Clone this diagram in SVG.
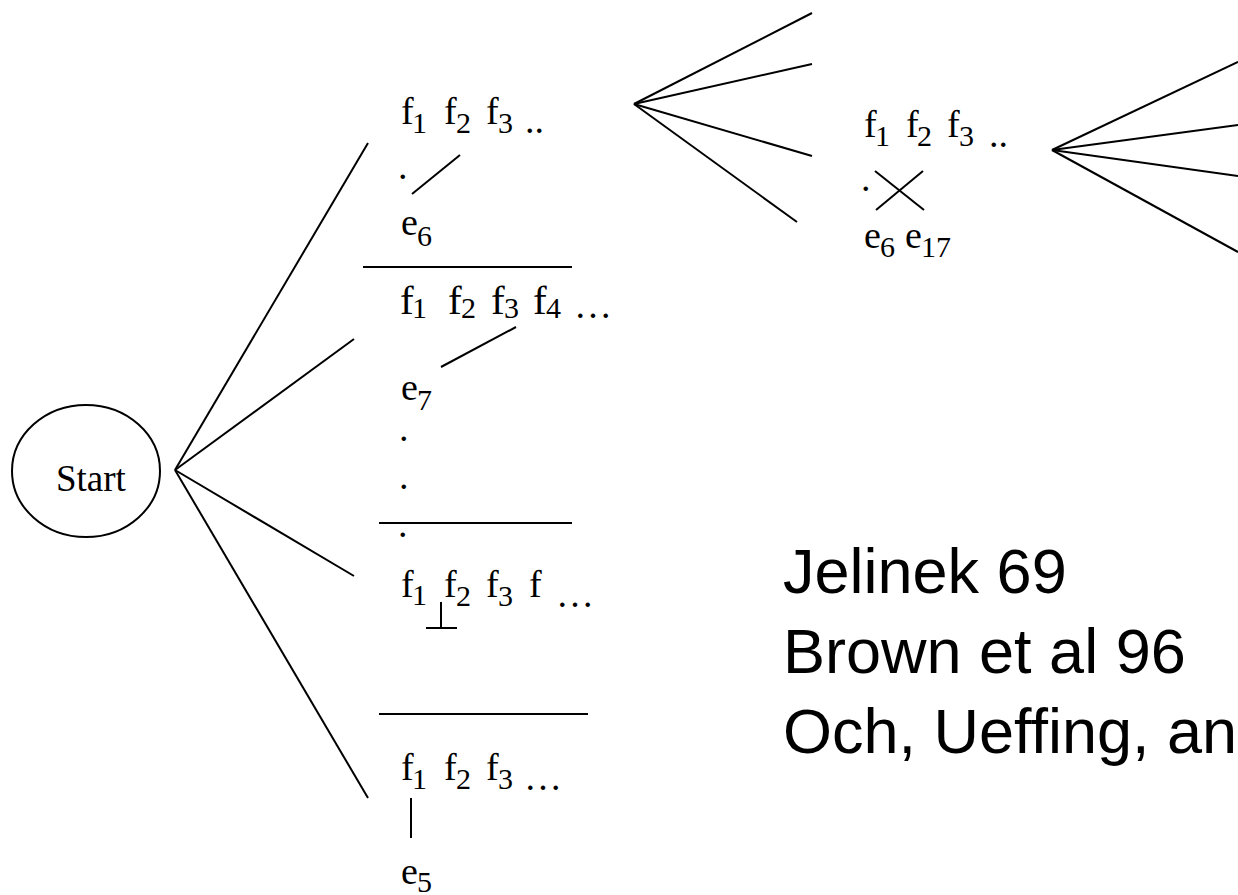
<svg xmlns="http://www.w3.org/2000/svg" width="1238" height="895" viewBox="0 0 1238 895">
<style>
.t{font-family:"Liberation Serif","Times New Roman",serif;font-size:38px;fill:#000}
.b{font-size:41px}
.s{font-family:"Liberation Serif","Times New Roman",serif;font-size:30px;fill:#000}
.r{font-family:"Liberation Sans",Arial,sans-serif;font-size:63px;fill:#000}
line{stroke:#000;stroke-width:2;stroke-linecap:butt}
</style>
<rect width="1238" height="895" fill="#fff"/>
<g id="connectors">
<line x1="175" y1="470" x2="368" y2="143"/>
<line x1="175" y1="470" x2="354" y2="339"/>
<line x1="175" y1="470" x2="354" y2="576"/>
<line x1="175" y1="470" x2="368" y2="798"/>
<line x1="634" y1="104" x2="812" y2="13"/>
<line x1="634" y1="104" x2="812" y2="64"/>
<line x1="634" y1="104" x2="812" y2="156"/>
<line x1="634" y1="104" x2="797" y2="222"/>
<line x1="1052" y1="150" x2="1238" y2="62"/>
<line x1="1052" y1="150" x2="1238" y2="125"/>
<line x1="1052" y1="150" x2="1238" y2="176"/>
<line x1="1052" y1="150" x2="1238" y2="252"/>
</g>
<g id="start">
<ellipse cx="86" cy="471" rx="74" ry="66" fill="none" stroke="#000" stroke-width="2"/>
<text class="t" x="56" y="491" style="font-size:37px">Start</text>
</g>
<g id="state1">
<text class="t" x="401" y="124">f</text><text class="s" x="412" y="133">1</text>
<text class="t" x="444" y="124">f</text><text class="s" x="456" y="133">2</text>
<text class="t" x="486" y="124">f</text><text class="s" x="498" y="133">3</text>
<text class="t" x="525" y="133">..</text>
<text class="t" x="398" y="179">.</text>
<line x1="460" y1="155" x2="412" y2="194"/>
<text class="t" x="401" y="235">e</text><text class="s" x="417" y="246">6</text>
<line x1="363" y1="267" x2="572" y2="267"/>
</g>
<g id="state2">
<text class="t b" x="400" y="314">f</text><text class="s" x="412" y="318">1</text>
<text class="t b" x="448" y="314">f</text><text class="s" x="461" y="318">2</text>
<text class="t b" x="491" y="314">f</text><text class="s" x="504" y="318">3</text>
<text class="t b" x="533" y="314">f</text><text class="s" x="546" y="318">4</text>
<text class="t" x="574" y="318">…</text>
<line x1="516" y1="327" x2="441" y2="367"/>
<text class="t" x="401" y="400">e</text><text class="s" x="417" y="410">7</text>
<text class="t" x="399" y="441">.</text>
<text class="t" x="399" y="489">.</text>
<line x1="379" y1="523" x2="572" y2="523"/>
<text class="t" x="398" y="537">.</text>
</g>
<g id="state3">
<text class="t" x="401" y="597">f</text><text class="s" x="412" y="605">1</text>
<text class="t" x="444" y="597">f</text><text class="s" x="456" y="606">2</text>
<text class="t" x="486" y="597">f</text><text class="s" x="498" y="606">3</text>
<text class="t" x="529" y="597">f</text>
<text class="t" x="556" y="607">…</text>
<line x1="441" y1="602" x2="441" y2="628"/>
<line x1="426" y1="628" x2="457" y2="628"/>
</g>
<g id="state4">
<line x1="379" y1="714" x2="588" y2="714"/>
<text class="t" x="401" y="780">f</text><text class="s" x="412" y="789">1</text>
<text class="t" x="444" y="780">f</text><text class="s" x="456" y="789">2</text>
<text class="t" x="486" y="780">f</text><text class="s" x="498" y="789">3</text>
<text class="t" x="524" y="790">…</text>
<line x1="411" y1="798" x2="411" y2="838"/>
<text class="t" x="401" y="884">e</text><text class="s" x="417" y="892">5</text>
</g>
<g id="state5">
<text class="t" x="864" y="137">f</text><text class="s" x="875" y="146">1</text>
<text class="t" x="906" y="137">f</text><text class="s" x="917" y="146">2</text>
<text class="t" x="947" y="137">f</text><text class="s" x="959" y="146">3</text>
<text class="t" x="989" y="147">..</text>
<text class="t" x="861" y="191">.</text>
<line x1="875" y1="171" x2="924" y2="210"/>
<line x1="923" y1="171" x2="876" y2="210"/>
<text class="t" x="864" y="248">e</text><text class="s" x="880" y="257">6</text>
<text class="t" x="905" y="248">e</text><text class="s" x="921" y="257">17</text>
</g>
<g id="refs">
<text class="r" x="783" y="593">Jelinek 69</text>
<text class="r" x="783" y="673">Brown et al 96</text>
<text class="r" x="783" y="753">Och, Ueffing, an</text>
</g>
</svg>
